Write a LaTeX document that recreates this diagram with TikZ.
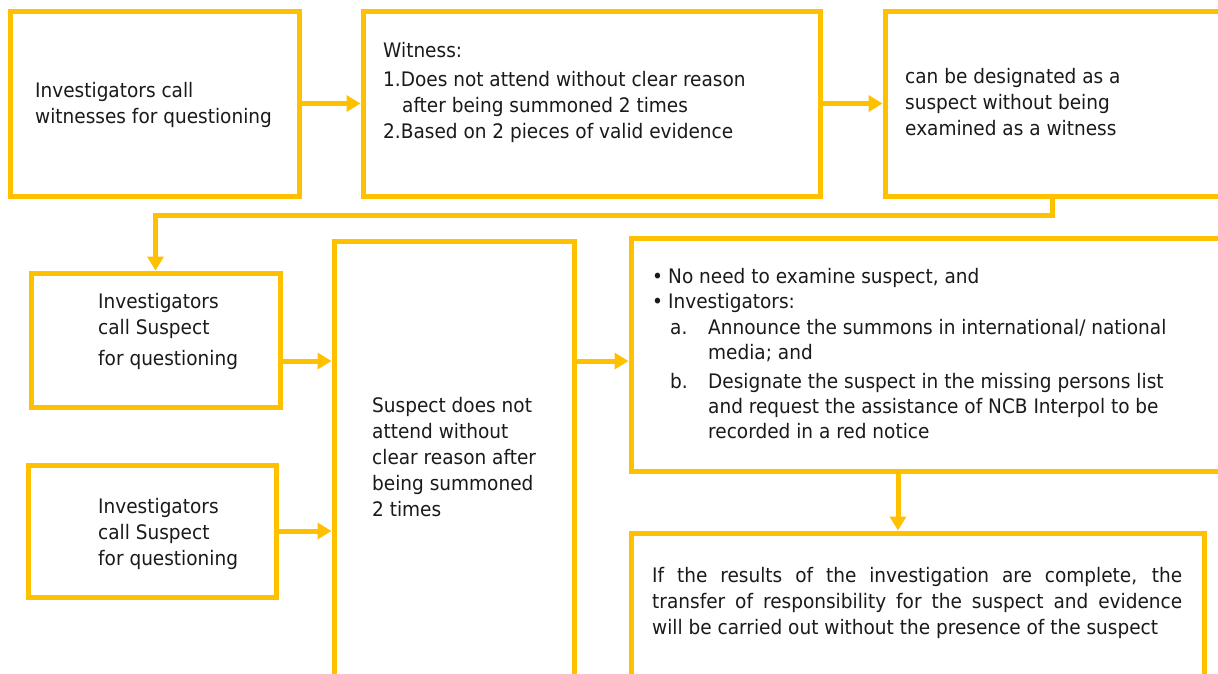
\documentclass[tikz,border=0pt]{standalone}
\usepackage{fontspec}
\setmainfont{DejaVu Sans}[FakeStretch=0.925]
\usetikzlibrary{arrows.meta}
\definecolor{gold}{HTML}{FFC000}
\definecolor{ink}{HTML}{1A1A1A}
\begin{document}
\begin{tikzpicture}[x=1pt,y=-1pt,
  box/.style={draw=gold, line width=5pt, rectangle, inner sep=0pt, fill=white},
  txt/.style={anchor=base west, inner sep=0pt, text=ink, font=\fontsize{20}{26}\selectfont},
  conn/.style={draw=gold, line width=5pt, -{Triangle[length=14pt,width=16pt]}}]
\clip (0,0) rectangle (1218,673);
% boxes
\node[box, minimum width=289pt, minimum height=185pt] (A) at (154.5,103.5) {};
\node[box, minimum width=457pt, minimum height=185pt] (B) at (591.5,103.5) {};
\node[box, minimum width=355pt, minimum height=185pt] (C) at (1062.5,103.5) {};
\node[box, minimum width=249pt, minimum height=134pt] (D) at (155.5,340) {};
\node[box, minimum width=248pt, minimum height=132pt] (E) at (152,531) {};
\node[box, minimum width=240pt, minimum height=459pt] (F) at (454,470.5) {};
\node[box, minimum width=609pt, minimum height=233pt] (G) at (935.5,354.5) {};
\node[box, minimum width=573pt, minimum height=167pt] (H) at (917.5,616.5) {};
% helper coordinates
\coordinate (cdrop) at (1052,0);
\coordinate (turn) at (600,215);
\coordinate (yD) at (0,361);
\coordinate (xG) at (898,0);
% connectors
\draw[conn] (A.east) -- (B.west);
\draw[conn] (B.east) -- (C.west);
\draw[conn] (C.south -| cdrop) |- (turn) -| (D.north);
\draw[conn] (D.east |- yD) -- (F.west |- yD);
\draw[conn] (E.east) -- (E.east -| F.west);
\draw[conn] (F.east |- yD) -- (G.west |- yD);
\draw[conn] (G.south -| xG) -- (H.north -| xG);
% texts
\node[txt] (tA) at (35,97) {\parbox[t]{300pt}{\raggedright Investigators call\\witnesses for questioning}};
\node[txt] (tB) at (383,57) {\parbox[t]{500pt}{\raggedright Witness:\\[3pt]1.Does not attend without clear reason\\\hspace*{19pt}after being summoned 2 times\\2.Based on 2 pieces of valid evidence}};
\node[txt] (tC) at (905,83) {\parbox[t]{330pt}{\raggedright can be designated as a\\suspect without being\\examined as a witness}};
\node[txt] (tD) at (98,308) {\parbox[t]{250pt}{\raggedright Investigators\\call Suspect\\[5pt]for questioning}};
\node[txt] (tE) at (98,513) {\parbox[t]{250pt}{\raggedright Investigators\\call Suspect\\for questioning}};
\node[txt] (tF) at (372,412) {\parbox[t]{250pt}{\raggedright Suspect does not\\attend without\\clear reason after\\being summoned\\2 times}};
\node[txt, font=\fontsize{20}{25}\selectfont] (tG) at (652,283) {\parbox[t]{620pt}{\raggedright
\makebox[16pt][l]{•}No need to examine suspect, and\\
\makebox[16pt][l]{•}Investigators:\\[1pt]
\hspace*{18pt}\makebox[38pt][l]{a.}Announce the summons in international/ national\\
\hspace*{56pt}media; and\\[4pt]
\hspace*{18pt}\makebox[38pt][l]{b.}Designate the suspect in the missing persons list\\
\hspace*{56pt}and request the assistance of NCB Interpol to be\\
\hspace*{56pt}recorded in a red notice}};
\node[txt] (tH) at (652,582) {\parbox[t]{530pt}{\makebox[530pt][s]{If the results of the investigation are complete, the}\\\makebox[530pt][s]{transfer of responsibility for the suspect and evidence}\\will be carried out without the presence of the suspect}};
\end{tikzpicture}
\end{document}
